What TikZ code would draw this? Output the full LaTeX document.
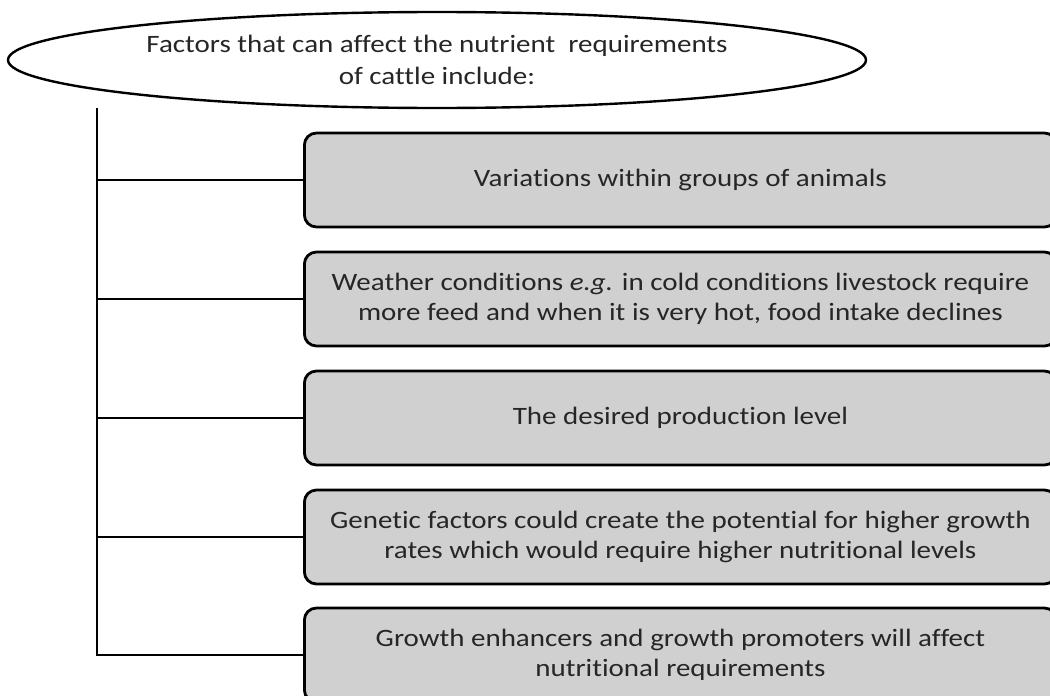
\documentclass[tikz,border=0pt]{standalone}
\usepackage{fontspec}
\setmainfont{Carlito}[FakeStretch=1.16,Ligatures=NoCommon]
\usetikzlibrary{shapes.geometric}
\definecolor{boxfill}{RGB}{208,208,208}
\definecolor{txt}{RGB}{38,38,38}
\tikzset{
  factorbox/.style={draw=black, line width=2.8pt, fill=boxfill, rounded corners=12pt,
    minimum width=752pt, minimum height=94pt, inner sep=0pt, anchor=west,
    align=center, text=txt, font=\fontsize{25}{30.5}\selectfont},
  headell/.style={draw=black, line width=2.4pt, ellipse, minimum width=858pt,
    minimum height=96pt, inner sep=0pt, align=center, text=txt,
    font=\fontsize{25}{32.5}\selectfont},
  link/.style={draw=black, line width=2.8pt}
}
\begin{document}
\begin{tikzpicture}[x=1pt,y=-1pt]
\useasboundingbox (0,0) rectangle (1050,696);
\clip (0,0) rectangle (1050,696);
\fill[white] (0,0) rectangle (1050,696);
\node[headell] (head) at (437,60) {Factors that can affect the nutrient\ \ requirements\\of cattle include:};
\node[factorbox] (b1) at (303,180) {Variations within groups of animals};
\node[factorbox] (b2) at (303,299) {Weather conditions \textit{e.g.} in cold conditions livestock require\\more feed and when it is very hot, food intake declines};
\node[factorbox] (b3) at (303,418) {The desired production level};
\node[factorbox] (b4) at (303,537) {Genetic factors could create the potential for higher growth\\rates which would require higher nutritional levels};
\node[factorbox] (b5) at (303,655) {Growth enhancers and growth promoters will affect\\nutritional requirements};
\coordinate (top) at (97,108);
\draw[link] (top) |- (b5.west);
\foreach \b in {b1,b2,b3,b4}{
  \draw[link] (\b.west -| top) -- (\b.west);
}
\end{tikzpicture}
\end{document}
